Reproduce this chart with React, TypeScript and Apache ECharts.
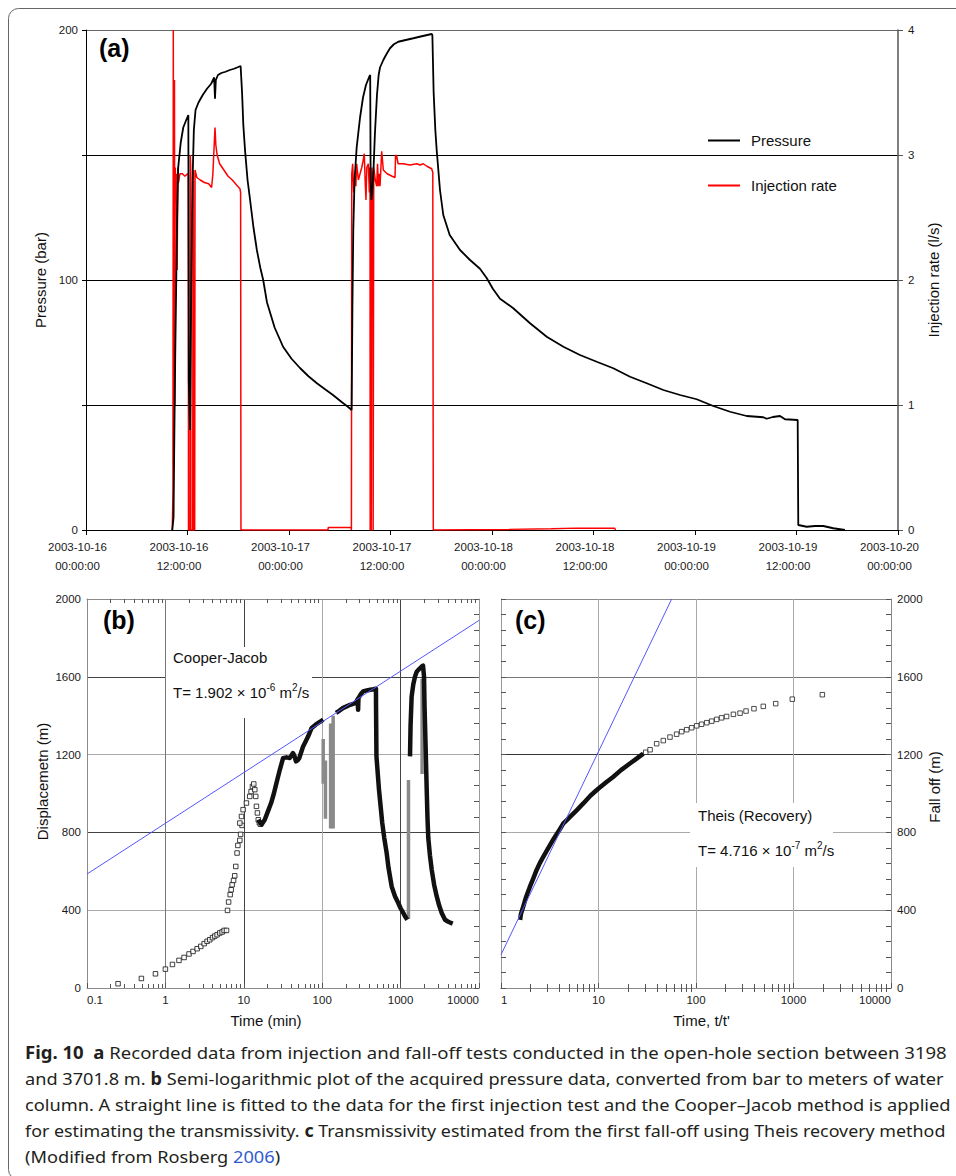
import React, { useEffect, useRef } from 'react';
import * as echarts from 'echarts';

const FONT = 'Liberation Sans, Arial, Helvetica, sans-serif';
const CAP_FONT = 'Noto Sans, sans-serif';

// ---------- Panel (a) ----------
const timeTickDates = ['2003-10-16', '2003-10-16', '2003-10-17', '2003-10-17', '2003-10-18', '2003-10-18', '2003-10-19', '2003-10-19', '2003-10-20'];
const timeTickClock = ['00:00:00', '12:00:00', '00:00:00', '12:00:00', '00:00:00', '12:00:00', '00:00:00', '12:00:00', '00:00:00'];
const pressureTickLabels = ['0', '', '100', '', '200'];
const rateTickLabels = ['0', '1', '2', '3', '4'];

// [hours since 2003-10-16 00:00, bar]
const pressure: [number, number][] = [
  [10.2, 0], [10.35, 5], [10.45, 40], [10.55, 70], [10.75, 120], [10.9, 145], [11.2, 155], [11.5, 161], [11.85, 164], [12.1, 166],
  [12.15, 60], [12.3, 40], [12.45, 100], [12.6, 140], [12.75, 160], [12.95, 168], [13.3, 171], [13.8, 174], [14.3, 176.5], [14.8, 178.5],
  [15.15, 181], [15.25, 172.5], [15.35, 180], [15.6, 182], [16.0, 182.8], [16.5, 183.3], [17.0, 184], [17.5, 184.5], [18.0, 185.2], [18.28, 185.6],
  [18.45, 175], [18.6, 162], [18.8, 152], [19.1, 140], [19.4, 132], [19.8, 121], [20.2, 112], [20.6, 105], [20.95, 100], [21.4, 91],
  [22.3, 81], [23.3, 73.3], [24.3, 68.5], [25.3, 64.8], [26.3, 61.5], [27.3, 58.7], [28.3, 56.2], [29.2, 54], [30.3, 51], [31.0, 49.2], [31.4, 48],
  [31.42, 55], [31.5, 90], [31.6, 120], [31.75, 140], [32.0, 153], [32.4, 165], [32.75, 173], [33.1, 178], [33.45, 181], [33.6, 182],
  [33.65, 140], [33.75, 132], [33.85, 135], [34.0, 145], [34.16, 158.7], [34.4, 174], [34.6, 182], [34.76, 185], [35.15, 188], [35.55, 190.5],
  [35.94, 192.7], [36.4, 194.3], [36.92, 195.3], [37.8, 196], [38.7, 196.7], [39.7, 197.5], [40.87, 198.4], [40.95, 198], [41.1, 175], [41.3, 160],
  [41.46, 152], [41.85, 136], [42.24, 126], [43.0, 118], [44.22, 112], [45.4, 108], [46.58, 104.5], [47.37, 100.8], [48.1, 96.5], [48.95, 92.5],
  [50.48, 88.8], [52.5, 82.7], [54.47, 77.3], [56.44, 73.3], [58.4, 70], [60.38, 67.3], [62.34, 64.7], [64.32, 61.3], [66.29, 58.7], [68.26, 56],
  [70.23, 54], [72.2, 52.3], [74.16, 49.6], [76.14, 47.3], [78.11, 45.6], [80.08, 45.1], [80.47, 44.5], [81.2, 45.2], [82.05, 45.6], [82.64, 44.3],
  [84.14, 44], [84.21, 2], [85.2, 1.3], [86.18, 1.6], [87.17, 1.6], [88.35, 0.7], [89.73, 0],
];

// [hours, l/s]
const injectionRate: [number, number][] = [
  [10.2, 0], [10.28, 0.3], [10.32, 4.0], [10.37, 0.5], [10.42, 3.3], [10.46, 3.6], [10.5, 1.0], [10.55, 2.9], [10.62, 2.7], [10.7, 2.85],
  [10.78, 2.08], [10.85, 2.9], [10.95, 2.78], [11.1, 2.85], [11.4, 2.85], [11.7, 2.83], [12.0, 2.85], [12.1, 2.84], [12.12, 0], [12.3, 0],
  [12.33, 3.0], [12.38, 2.9], [12.4, 0], [12.62, 0], [12.65, 2.88], [12.69, 2.85], [12.72, 0], [12.85, 0], [12.89, 2.88], [13.1, 2.82],
  [13.5, 2.8], [14.0, 2.78], [14.5, 2.77], [14.85, 2.74], [15.0, 2.85], [15.25, 3.22], [15.35, 3.08], [15.5, 3.0], [15.8, 2.93], [16.3, 2.88],
  [16.8, 2.83], [17.3, 2.8], [17.8, 2.76], [18.2, 2.73], [18.28, 2.7], [18.32, 0], [28.6, 0], [28.65, 0.02], [31.35, 0.02], [31.38, 0],
  [31.42, 2.85], [31.53, 2.93], [31.65, 2.7], [31.8, 2.83], [31.9, 2.75], [32.0, 2.93], [32.2, 2.8], [32.4, 2.85], [32.6, 2.9], [32.75, 2.95],
  [32.9, 3.01], [33.0, 2.8], [33.1, 2.64], [33.2, 2.9], [33.38, 2.93], [33.5, 2.7], [33.58, 2.9], [33.6, 0], [33.72, 0], [33.75, 2.7],
  [33.8, 2.9], [33.9, 2.8], [33.95, 0], [34.0, 0], [34.02, 2.9], [34.2, 2.8], [34.37, 2.75], [34.47, 2.93], [34.56, 2.75], [34.66, 2.85],
  [34.76, 2.75], [34.96, 3.03], [35.15, 2.88], [35.6, 2.85], [36.2, 2.83], [36.53, 2.82], [36.6, 3.0], [36.73, 2.99], [36.9, 2.93], [37.5, 2.93],
  [38.3, 2.92], [39.1, 2.93], [39.5, 2.92], [39.88, 2.93], [40.3, 2.91], [40.87, 2.89], [41.0, 2.86], [41.06, 0], [50, 0.005], [55, 0.01],
  [58, 0.015], [62.5, 0.015], [62.6, 0],
];

// ---------- Panel (b) ----------
const bTickLabels = ['0.1', '1', '10', '100', '1000', '10000'];
const yTickLabels = ['0', '400', '800', '1200', '1600', '2000'];
const logMinorMultipliers = [2, 3, 4, 5, 6, 7, 8, 9];

// [time (min), displacement (m)]
const bEarly: [number, number][] = [
  [0.249, 22], [0.494, 49], [0.747, 73], [1.0, 97], [1.23, 121], [1.49, 142], [1.73, 157], [2.0, 175], [2.25, 188], [2.54, 202],
  [2.83, 214], [3.12, 228], [3.4, 240], [3.68, 248], [3.99, 259], [4.27, 267], [4.57, 274], [4.94, 283], [5.29, 288], [5.61, 296],
  [6.02, 296], [6.2, 399], [6.4, 442], [6.7, 480], [6.9, 505], [7.1, 531], [7.4, 553], [7.66, 577], [7.9, 625], [8.2, 694],
  [8.4, 733], [8.9, 759], [9.1, 790], [9.5, 836], [8.9, 848], [9.35, 882], [9.8, 917], [10.8, 951], [11.9, 985], [12.4, 1010],
  [12.9, 1036], [13.4, 1049], [13.8, 1020], [14.2, 985], [14.5, 934], [14.9, 900], [15.3, 865], [15.8, 850], [16.3, 842],
];
const bDense1: [number, number][] = [
  [15.3, 865], [16.8, 840], [18.5, 865], [20.3, 908], [22.3, 951], [24.2, 1000], [26.1, 1054], [28.8, 1122], [31.7, 1182], [35, 1186],
  [38.5, 1182], [42.4, 1208], [44.5, 1190], [46.3, 1165], [48.5, 1170], [51, 1182], [57, 1242], [61, 1265], [66, 1293], [73.4, 1337],
  [82.5, 1354], [90, 1364], [98, 1374], [103, 1380],
];
const bDense2: [number, number][] = [
  [150, 1414], [165, 1425], [183, 1439], [205, 1448], [227, 1456], [264, 1465], [275, 1475], [283, 1485], [287, 1430], [290, 1490],
  [310, 1510], [333, 1525], [370, 1530], [410, 1533], [450, 1536], [485, 1539], [486, 1450], [488, 1362], [492, 1191], [530, 1020],
  [583, 850], [619, 771], [664, 694], [700, 620], [769, 522], [850, 470], [934, 437], [1000, 410], [1081, 386], [1150, 366], [1217, 351],
];
const bDense3: [number, number][] = [
  [1318, 1191], [1340, 1350], [1383, 1499], [1450, 1560], [1528, 1602], [1600, 1625], [1684, 1636], [1860, 1653], [1933, 1657], [1990, 1600],
  [2020, 1450], [2047, 1362], [2100, 1190], [2153, 1020], [2200, 880], [2255, 771], [2370, 680], [2494, 608], [2680, 530], [2890, 471],
  [3100, 425], [3345, 386], [3687, 351], [4000, 342], [4266, 337], [4620, 331],
];
const bColumns: [number, number][][] = [
  [[103, 1280], [103, 1050]],
  [[110, 1170], [110, 870]],
  [[128, 1360], [128, 820]],
  [[138, 1400], [138, 820]],
  [[1260, 355], [1260, 1070]],
  [[1880, 1590], [1880, 1100]],
];
const bFit: [number, number][] = [[0.1, 586], [10000, 1890]];

// ---------- Panel (c) ----------
const cTickLabels = ['1', '10', '100', '1000', '10000'];
// [t/t', fall off (m)]
const cDense: [number, number][] = [
  [1.57, 350], [1.6, 380], [1.69, 418], [1.8, 465], [1.98, 521], [2.15, 565], [2.32, 607], [2.5, 642], [2.72, 675], [2.95, 706],
  [3.18, 735], [3.45, 765], [3.72, 790], [4.0, 815], [4.36, 846], [4.7, 862], [5.1, 880], [6.0, 915], [6.98, 949], [8.3, 990],
  [10, 1026], [12, 1058], [14.1, 1085], [17, 1120], [21, 1154], [25, 1182], [28.8, 1205],
];
const cSparse: [number, number][] = [
  [30.5, 1212], [33.8, 1225], [39.5, 1256], [46.2, 1272], [54.1, 1290], [63.3, 1305], [71.3, 1318], [80.3, 1328], [90.3, 1338], [101.6, 1348],
  [114, 1356], [129, 1364], [145, 1372], [163, 1381], [183, 1389], [206, 1396], [242, 1407], [283, 1413], [326, 1424], [393, 1436],
  [490, 1448], [657, 1462], [972, 1485], [1976, 1508],
];
const cFit: [number, number][] = [[1, 171], [56.3, 2000]];

// ---------- Caption ----------
const captionLines: [string, string][][] = [
  [['b', 'Fig. 10'], ['r', '  '], ['b', 'a'], ['r', ' Recorded data from injection and fall-off tests conducted in the open-hole section between 3198']],
  [['r', 'and 3701.8 m. '], ['b', 'b'], ['r', ' Semi-logarithmic plot of the acquired pressure data, converted from bar to meters of water']],
  [['r', 'column. A straight line is fitted to the data for the first injection test and the Cooper–Jacob method is applied']],
  [['r', 'for estimating the transmissivity. '], ['b', 'c'], ['r', ' Transmissivity estimated from the first fall-off using Theis recovery method']],
  [['r', '(Modified from Rosberg '], ['l', '2006'], ['r', ')']],
];
const captionRight = [947, 944, 951, 946, 0];

function minorTicks(fromExp: number, toExp: number): number[] {
  const out: number[] = [];
  for (let e = fromExp; e < toExp; e++) {
    for (const m of logMinorMultipliers) out.push(parseFloat((m * Math.pow(10, e)).toPrecision(6)));
  }
  return out;
}

function measure(text: string, weight: string, size: number, family: string): number {
  const ctx = document.createElement('canvas').getContext('2d')!;
  ctx.font = `${weight} ${size}px ${family}`;
  return ctx.measureText(text).width;
}

export default function App() {
  const ref = useRef<HTMLDivElement>(null);
  useEffect(() => {
    if (!ref.current) return;
    const chart = echarts.init(ref.current, undefined, { renderer: 'svg' });

    const lbl = { fontFamily: FONT, fontSize: 11.5, color: '#1a1a1a' };
    const nameStyle = { fontFamily: FONT, fontSize: 15, color: '#111' };
    const bMinor = minorTicks(-1, 4);
    const cMinor = minorTicks(0, 4);

    // Caption graphics
    const CAP_SIZE = 17;
    const capColor = '#231f20';
    const scales: number[] = [];
    const capEls: any[] = [];
    captionLines.forEach((segs, i) => {
      let w = 0;
      segs.forEach(([k, t]) => { w += measure(t, k === 'b' ? 'bold' : 'normal', CAP_SIZE, CAP_FONT); });
      let s: number;
      if (captionRight[i] > 0) { s = (captionRight[i] - 25) / w; scales.push(s); }
      else { s = scales.reduce((a, b) => a + b, 0) / scales.length; }
      capEls.push({
        type: 'text', x: 25, y: 1052 + i * 26, scaleX: s, z: 10, silent: true,
        style: {
          text: segs.map(([k, t]) => `{${k}|${t}}`).join(''),
          verticalAlign: 'middle', align: 'left',
          rich: {
            r: { fontFamily: CAP_FONT, fontSize: CAP_SIZE, fill: capColor, color: capColor },
            b: { fontFamily: CAP_FONT, fontSize: CAP_SIZE, fontWeight: 'bold', fill: capColor, color: capColor },
            l: { fontFamily: CAP_FONT, fontSize: CAP_SIZE, fill: '#2f5bd0', color: '#2f5bd0' },
          },
        },
      });
    });

    const panelLabel = (txt: string, x: number, y: number) => ({
      type: 'text', x, y, z: 10, silent: true,
      style: { text: txt, fontFamily: FONT, fontSize: 25, fontWeight: 'bold', fill: '#000', verticalAlign: 'middle', align: 'left' },
    });
    const supText = (x: number, y: number, base: string, exp: string) => ({
      type: 'text', x, y, z: 10, silent: true,
      style: {
        text: `{n|${base}}{s|${exp}}{n| m}{s|2}{n|/s}`,
        verticalAlign: 'middle', align: 'left',
        rich: {
          n: { fontFamily: FONT, fontSize: 15, fill: '#111' },
          s: { fontFamily: FONT, fontSize: 10, fill: '#111', padding: [0, 0, 9, 0] },
        },
      },
    });
    const plainText = (x: number, y: number, t: string) => ({
      type: 'text', x, y, z: 10, silent: true,
      style: { text: t, fontFamily: FONT, fontSize: 15, fill: '#111', verticalAlign: 'middle', align: 'left' },
    });

    const logXAxis = (grid: number, min: number, max: number, labels: string[] | null, pos: 'top' | 'bottom', ticks: number[] | null, splitColors: string[] | null, minExp: number, name?: string, namePad?: number[]) => {
      const ax: any = {
        type: 'log', logBase: 10, gridIndex: grid, position: pos, min, max,
        axisLine: { show: !!labels || pos === 'top', lineStyle: { color: '#8a8a8a', width: 1 } },
        axisTick: ticks
          ? { show: true, inside: true, length: 4, customValues: ticks, lineStyle: { color: '#555' } }
          : { show: true, inside: true, length: 5, lineStyle: { color: '#555' } },
        axisLabel: labels
          ? { show: true, ...lbl, margin: 6, formatter: (v: number) => labels[Math.round(Math.log10(v)) - minExp] ?? '', alignMinLabel: 'left', alignMaxLabel: 'right' }
          : { show: false },
        splitLine: splitColors ? { show: true, lineStyle: { color: splitColors, width: 1 } } : { show: false },
      };
      if (name) {
        ax.name = name; ax.nameLocation = 'middle'; ax.nameGap = 25;
        ax.nameTextStyle = { ...nameStyle, padding: namePad };
      }
      return ax;
    };

    const option: any = {
      animation: false,
      backgroundColor: '#fff',
      textStyle: { fontFamily: FONT },
      grid: [
        { left: 86, top: 30, width: 812, height: 500, outerBoundsMode: 'none', containLabel: false },
        { left: 87, top: 599, width: 392, height: 389, outerBoundsMode: 'none', containLabel: false },
        { left: 501, top: 599, width: 390, height: 389, outerBoundsMode: 'none', containLabel: false },
      ],
      legend: {
        data: ['Pressure', 'Injection rate'], orient: 'vertical', left: 708, top: 133, padding: 0,
        itemWidth: 32, itemHeight: 2, itemGap: 30, icon: 'rect',
        textStyle: { fontFamily: FONT, fontSize: 15, color: '#111', padding: [0, 0, 0, 6] },
      },
      xAxis: [
        {
          type: 'value', gridIndex: 0, min: 0, max: 96, interval: 12,
          axisLine: { show: true, lineStyle: { color: '#000', width: 1 } },
          axisTick: { show: true, length: 5, lineStyle: { color: '#000' } },
          axisLabel: {
            ...lbl, margin: 7, lineHeight: 19, padding: [0, 17, 0, 0],
            formatter: (v: number) => { const i = Math.round(v / 12); return `${timeTickDates[i]}\n${timeTickClock[i]}`; },
          },
          splitLine: { show: false },
        },
        logXAxis(1, 0.1, 10000, bTickLabels, 'bottom', null, ['#8a8a8a', '#777', '#444', '#aaa', '#444', '#8a8a8a'], -1, 'Time (min)', [0, 34, 0, 0]),
        logXAxis(1, 0.1, 10000, null, 'bottom', bMinor, null, -1),
        logXAxis(1, 0.1, 10000, null, 'top', bMinor, null, -1),
        logXAxis(2, 1, 10000, cTickLabels, 'bottom', null, ['#8a8a8a', '#aaa', '#aaa', '#aaa', '#8a8a8a'], 0, "Time, t/t'", [0, 0, 0, 11]),
        logXAxis(2, 1, 10000, null, 'bottom', cMinor, null, 0),
        logXAxis(2, 1, 10000, null, 'top', cMinor, null, 0),
      ],
      yAxis: [
        {
          type: 'value', gridIndex: 0, position: 'left', min: 0, max: 200, interval: 50,
          axisLine: { show: true, lineStyle: { color: '#000', width: 1 } },
          axisTick: { show: true, length: 4, lineStyle: { color: '#000' } },
          axisLabel: { ...lbl, margin: 8, formatter: (v: number) => pressureTickLabels[Math.round(v / 50)] },
          splitLine: { show: true, lineStyle: { color: ['#000', '#000', '#000', '#000', '#666'], width: 1 } },
          name: 'Pressure (bar)', nameLocation: 'middle', nameRotate: 90, nameGap: 33, nameTextStyle: nameStyle,
        },
        {
          type: 'value', gridIndex: 0, position: 'right', min: 0, max: 4, interval: 1,
          axisLine: { show: true, lineStyle: { color: '#555', width: 1.5 } },
          axisTick: { show: true, length: 5, lineStyle: { color: '#555' } },
          axisLabel: { ...lbl, margin: 10, formatter: (v: number) => rateTickLabels[Math.round(v)] },
          splitLine: { show: false },
          name: 'Injection rate (l/s)', nameLocation: 'middle', nameRotate: 90, nameGap: 28, nameTextStyle: nameStyle,
        },
        {
          type: 'value', gridIndex: 1, position: 'left', min: 0, max: 2000, interval: 400,
          axisLine: { show: true, lineStyle: { color: '#8a8a8a', width: 1 } },
          axisTick: { show: false },
          axisLabel: { ...lbl, margin: 6, formatter: (v: number) => yTickLabels[Math.round(v / 400)] },
          splitLine: { show: true, lineStyle: { color: ['#8a8a8a', '#aaa', '#444', '#aaa', '#444', '#8a8a8a'], width: 1 } },
          name: 'Displacemetn (m)', nameLocation: 'middle', nameRotate: 90, nameGap: 37,
          nameTextStyle: { ...nameStyle, padding: [0, 0, 0, 24] },
        },
        {
          type: 'value', gridIndex: 1, position: 'right', min: 0, max: 2000, interval: 80,
          axisLine: { show: true, lineStyle: { color: '#999', width: 1 } },
          axisTick: { show: true, inside: true, length: 5, lineStyle: { color: '#555' } },
          axisLabel: { show: false }, splitLine: { show: false },
        },
        {
          type: 'value', gridIndex: 2, position: 'right', min: 0, max: 2000, interval: 400,
          axisLine: { show: true, lineStyle: { color: '#8a8a8a', width: 1 } },
          axisTick: { show: false },
          axisLabel: { ...lbl, margin: 6, formatter: (v: number) => yTickLabels[Math.round(v / 400)] },
          splitLine: { show: true, lineStyle: { color: ['#8a8a8a', '#888', '#aaa', '#333', '#777', '#8a8a8a'], width: 1 } },
          name: 'Fall off (m)', nameLocation: 'middle', nameRotate: 90, nameGap: 36,
          nameTextStyle: { ...nameStyle, padding: [0, 0, 0, 13] },
        },
        {
          type: 'value', gridIndex: 2, position: 'left', min: 0, max: 2000, interval: 80,
          axisLine: { show: true, lineStyle: { color: '#999', width: 1 } },
          axisTick: { show: true, inside: true, length: 5, lineStyle: { color: '#555' } },
          axisLabel: { show: false }, splitLine: { show: false },
        },
        {
          type: 'value', gridIndex: 2, position: 'right', min: 0, max: 2000, interval: 80,
          axisLine: { show: false },
          axisTick: { show: true, inside: true, length: 5, lineStyle: { color: '#555' } },
          axisLabel: { show: false }, splitLine: { show: false },
        },
      ],
      series: [
        {
          name: 'Injection rate', type: 'line', xAxisIndex: 0, yAxisIndex: 1, data: injectionRate,
          showSymbol: false, symbol: 'none', lineStyle: { color: '#ff0000', width: 1.5 }, itemStyle: { color: '#ff0000' },
        },
        {
          name: 'Pressure', type: 'line', xAxisIndex: 0, yAxisIndex: 0, data: pressure,
          showSymbol: false, symbol: 'none', lineStyle: { color: '#000', width: 1.8 }, itemStyle: { color: '#000' },
        },
        ...bColumns.map((seg, i) => ({
          name: `b-col-${i}`, type: 'line', xAxisIndex: 1, yAxisIndex: 2, data: seg,
          showSymbol: false, symbol: 'none', lineStyle: { color: '#8a8a8a', width: 3.5 },
        })),
        ...[bDense1, bDense2, bDense3].map((seg, i) => ({
          name: `Displacement-${i}`, type: 'line', xAxisIndex: 1, yAxisIndex: 2, data: seg,
          showSymbol: false, symbol: 'none', lineStyle: { color: '#111', width: 4.5, join: 'round', cap: 'butt' },
        })),
        {
          name: 'Displacement early', type: 'scatter', xAxisIndex: 1, yAxisIndex: 2, data: bEarly,
          symbol: 'rect', symbolSize: 4.5, itemStyle: { color: '#fff', borderColor: '#111', borderWidth: 1 },
        },
        {
          name: 'Cooper-Jacob fit', type: 'line', xAxisIndex: 1, yAxisIndex: 2, data: bFit, z: 4,
          showSymbol: false, symbol: 'none', lineStyle: { color: '#5555ff', width: 1 },
        },
        {
          name: 'Fall off dense', type: 'line', xAxisIndex: 4, yAxisIndex: 4, data: cDense,
          showSymbol: false, symbol: 'none', lineStyle: { color: '#111', width: 4.5, join: 'round', cap: 'butt' },
        },
        {
          name: 'Fall off', type: 'scatter', xAxisIndex: 4, yAxisIndex: 4, data: cSparse,
          symbol: 'rect', symbolSize: 4.5, itemStyle: { color: '#fff', borderColor: '#222', borderWidth: 1 },
        },
        {
          name: 'Theis fit', type: 'line', xAxisIndex: 4, yAxisIndex: 4, data: cFit, z: 4,
          showSymbol: false, symbol: 'none', lineStyle: { color: '#5555ff', width: 1 },
        },
      ],
      graphic: [
        {
          type: 'rect', z: -1, silent: true,
          shape: { x: 8.5, y: 8.5, width: 1000, height: 1171, r: 10 },
          style: { fill: 'none', stroke: '#666', lineWidth: 1 },
        },
        { type: 'rect', z: 1, silent: true, shape: { x: 166, y: 647, width: 146, height: 71 }, style: { fill: '#fff' } },
        { type: 'rect', z: 1, silent: true, shape: { x: 690, y: 803, width: 143, height: 64 }, style: { fill: '#fff' } },
        panelLabel('(a)', 99, 48),
        panelLabel('(b)', 103, 620),
        panelLabel('(c)', 515, 620),
        plainText(173, 657, 'Cooper-Jacob'),
        supText(173, 692, 'T= 1.902 × 10', '-6'),
        plainText(698, 815, 'Theis (Recovery)'),
        supText(698, 850, 'T= 4.716 × 10', '-7'),
        ...capEls,
      ],
    };

    chart.setOption(option);
    return () => chart.dispose();
  }, []);

  return <div ref={ref} style={{ position: 'absolute', left: 0, top: 0, width: 956, height: 1176, background: '#fff' }} />;
}
